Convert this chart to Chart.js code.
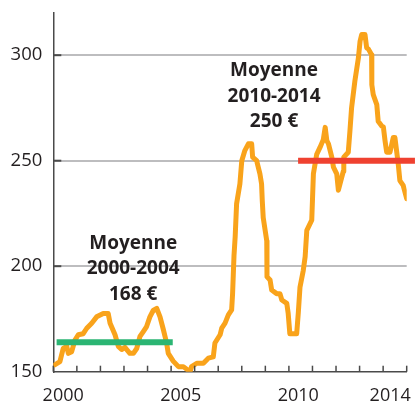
<!DOCTYPE html>
<html>
<head>
<meta charset="utf-8">
<script src="https://cdn.jsdelivr.net/npm/chart.js@4/dist/chart.umd.min.js"></script>
<style>
  html, body { margin: 0; padding: 0; background: #fff; }
  #wrap { position: relative; width: 416px; height: 405px; }
</style>
</head>
<body>
<div id="wrap"><canvas id="c" width="416" height="405"></canvas></div>
<script>
// ---- Data (decimal years, price in €/t) ----
const years = [
  2000.07, 2000.28, 2000.42, 2000.57, 2000.64, 2000.78, 2000.92, 2001.06, 2001.27, 2001.42,
  2001.63, 2001.84, 2002.12, 2002.33, 2002.41, 2002.62, 2002.76, 2002.90, 2003.04, 2003.25,
  2003.40, 2003.54, 2003.68, 2003.82, 2003.96, 2004.10, 2004.24, 2004.39, 2004.53, 2004.67,
  2004.81, 2004.88, 2005.09, 2005.31, 2005.52, 2005.80, 2005.87, 2006.09, 2006.37, 2006.58,
  2006.79, 2006.86, 2007.08, 2007.15, 2007.29, 2007.43, 2007.57, 2007.61, 2007.64, 2007.67,
  2007.72, 2007.78, 2007.92, 2008.00, 2008.13, 2008.28, 2008.42, 2008.46, 2008.63, 2008.77,
  2008.84, 2008.87, 2008.91, 2009.06, 2009.07, 2009.20, 2009.27, 2009.48, 2009.62, 2009.70,
  2009.91, 2009.97, 2010.04, 2010.33, 2010.40, 2010.47, 2010.61, 2010.69, 2010.76, 2010.97,
  2011.04, 2011.18, 2011.32, 2011.46, 2011.54, 2011.61, 2011.68, 2011.82, 2011.89, 2012.03,
  2012.10, 2012.17, 2012.31, 2012.33, 2012.52, 2012.59, 2012.66, 2012.80, 2012.95, 2013.02,
  2013.09, 2013.23, 2013.30, 2013.37, 2013.51, 2013.52, 2013.58, 2013.73, 2013.79, 2013.94,
  2014.01, 2014.08, 2014.15, 2014.29, 2014.43, 2014.50, 2014.57, 2014.64, 2014.71, 2014.85,
  2015.00
];
const prices = [
  153.3, 154.8, 161.0, 162.0, 158.7, 159.5, 165.0, 167.5, 168.0, 170.6,
  173.0, 176.0, 177.6, 177.6, 173.0, 167.5, 162.0, 160.5, 161.5, 158.7,
  158.7, 161.0, 166.7, 169.0, 171.4, 176.0, 179.0, 180.0, 176.0, 170.0,
  163.6, 158.7, 155.0, 152.4, 152.4, 150.0, 152.4, 154.0, 154.0, 156.4,
  157.0, 163.6, 167.5, 170.6, 173.0, 176.9, 179.3, 187.0, 196.0, 205.0,
  214.0, 229.6, 239.0, 250.0, 254.8, 258.0, 258.0, 251.7, 250.0, 243.8,
  239.0, 231.0, 223.0, 212.0, 195.0, 193.5, 188.7, 187.0, 187.0, 184.0,
  182.4, 177.6, 168.0, 168.0, 178.0, 190.0, 198.0, 204.5, 217.0, 221.8,
  243.8, 253.0, 256.3, 260.0, 265.8, 259.5, 258.0, 251.7, 247.0, 243.8,
  236.0, 239.0, 245.0, 251.7, 254.0, 264.0, 275.0, 287.7, 298.7, 306.6,
  309.8, 309.8, 303.5, 303.0, 300.2, 286.0, 281.3, 276.6, 268.7, 266.4,
  266.0, 259.5, 254.0, 254.0, 261.0, 261.0, 254.8, 248.5, 240.6, 238.3,
  232.0
];

// Period averages as drawn
const avg1Years = [2000.14, 2005.07];
const avg1Value = 164;
const avg2Years = [2010.39, 2015.35];
const avg2Value = 250;

// Axis ticks
const yTicks = [150, 200, 250, 300];
const xLabelPos = [2000.42, 2005.41, 2010.40, 2014.30];
const xLabels = ['2000', '2005', '2010', '2014'];
const yearMarks = [2000,2001,2002,2003,2004,2005,2006,2007,2008,2009,2010,2011,2012,2013,2014,2015];

// Annotation texts and anchors (data coordinates of first line centre)
const notes = [
  { x: 2003.39, y: 210.8, lines: ['Moyenne', '2000-2004', '168 €'] },
  { x: 2009.37, y: 292.5, lines: ['Moyenne', '2010-2014', '250 €'] }
];

const TEXT = '#231f20';
const AXIS = '#4a4a4a';

function noPad(s) { s.paddingLeft = 0; s.paddingRight = 0; s.paddingTop = 0; s.paddingBottom = 0; }

const extras = {
  id: 'extras',
  afterDatasetsDraw(chart) {
    const { ctx, scales: { x, y }, chartArea: a } = chart;
    ctx.save();
    // inner tick marks
    ctx.strokeStyle = AXIS;
    ctx.lineWidth = 1.5;
    yearMarks.forEach(v => {
      const px = x.getPixelForValue(v);
      ctx.beginPath(); ctx.moveTo(px, a.bottom); ctx.lineTo(px, a.bottom - 6); ctx.stroke();
    });
    ctx.lineWidth = 2;
    yTicks.slice(1).forEach(v => {
      const py = y.getPixelForValue(v);
      ctx.beginPath(); ctx.moveTo(a.left, py); ctx.lineTo(a.left + 8, py); ctx.stroke();
    });
    // annotations
    ctx.fillStyle = TEXT;
    ctx.font = 'bold 19px "Open Sans"';
    ctx.textAlign = 'center';
    ctx.textBaseline = 'middle';
    notes.forEach(n => {
      const px = x.getPixelForValue(n.x);
      const py = y.getPixelForValue(n.y);
      n.lines.forEach((t, i) => ctx.fillText(t, px, py + i * 25.5));
    });
    ctx.restore();
  }
};

new Chart(document.getElementById('c'), {
  type: 'line',
  data: {
    datasets: [
      {
        data: years.map((v, i) => ({ x: v, y: prices[i] })),
        borderColor: '#f9a31b',
        borderWidth: 5,
        pointRadius: 0,
        tension: 0,
        borderJoinStyle: 'round',
        borderCapStyle: 'round',
        order: 2
      },
      {
        data: avg1Years.map(v => ({ x: v, y: avg1Value })),
        borderColor: '#2bb573',
        borderWidth: 6,
        pointRadius: 0,
        borderCapStyle: 'butt',
        order: 1
      },
      {
        data: avg2Years.map(v => ({ x: v, y: avg2Value })),
        borderColor: '#ef4130',
        borderWidth: 6,
        pointRadius: 0,
        borderCapStyle: 'butt',
        clip: false,
        order: 1
      }
    ]
  },
  options: {
    responsive: false,
    animation: false,
    events: [],
    layout: { padding: { top: 13, right: 9.3, left: 0, bottom: 0 } },
    plugins: { legend: { display: false }, tooltip: { enabled: false }, title: { display: false } },
    scales: {
      x: {
        type: 'linear',
        min: 2000,
        max: 2015,
        afterBuildTicks: s => { s.ticks = xLabelPos.map(v => ({ value: v })); },
        afterFit: s => { s.height = 33.3; noPad(s); },
        ticks: {
          autoSkip: false,
          maxRotation: 0,
          padding: 13,
          color: TEXT,
          font: { family: '"Open Sans"', size: 18 },
          callback: (v, i) => xLabels[i]
        },
        grid: { display: true, drawOnChartArea: false, drawTicks: false },
        border: { display: true, color: AXIS, width: 1.5 }
      },
      y: {
        type: 'linear',
        min: 150,
        max: 320,
        afterBuildTicks: s => { s.ticks = yTicks.map(v => ({ value: v })); },
        afterFit: s => { s.width = 53.3; noPad(s); },
        ticks: {
          padding: 11,
          color: TEXT,
          font: { family: '"Open Sans"', size: 18.5 }
        },
        grid: {
          drawTicks: false,
          color: ctx => (ctx.tick && ctx.tick.value === 150) ? 'rgba(0,0,0,0)' : '#bdbdbf',
          lineWidth: 2
        },
        border: { display: true, color: AXIS, width: 1.5 }
      }
    }
  },
  plugins: [extras]
});
</script>
</body>
</html>
